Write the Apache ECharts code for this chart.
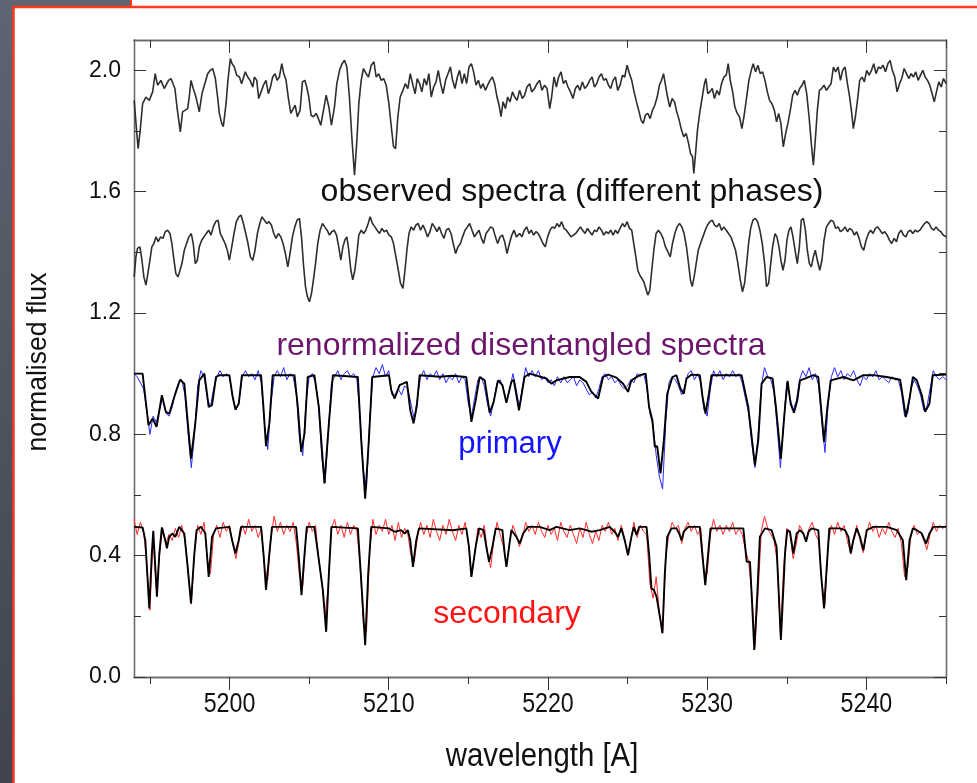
<!DOCTYPE html>
<html>
<head>
<meta charset="utf-8">
<title>Disentangled spectra</title>
<script src="https://cdn.jsdelivr.net/npm/echarts@6/dist/echarts.min.js"></script>
<style>
  html, body { margin: 0; padding: 0; background: #545a67; }
  #chart { width: 977px; height: 783px; }
</style>
</head>
<body>
<div id="chart"></div>
<script>
// Axis ticks
const waveTicksMajor = [5200, 5210, 5220, 5230, 5240];
const waveTicksMinor = [5195, 5205, 5215, 5225, 5235, 5245];
const fluxTicksMajor = [0.0, 0.4, 0.8, 1.2, 1.6, 2.0];
const fluxTicksMinor = [0.2, 0.6, 1.0, 1.4, 1.8];

// Observed composite spectrum, first phase (wavelength, flux)
const observedPhaseA = [
[5194.01,1.901],[5194.16,1.803],[5194.26,1.742],[5194.39,1.803],[5194.54,1.890],[5194.75,1.912],[5194.96,1.901],[5195.17,1.929],[5195.33,1.989],[5195.48,1.951],
[5195.59,1.945],[5195.69,1.967],[5195.80,1.962],[5195.90,1.940],[5196.00,1.945],[5196.17,1.967],[5196.32,1.973],[5196.42,1.978],[5196.57,1.940],[5196.70,1.879],
[5196.91,1.797],[5197.05,1.863],[5197.20,1.868],[5197.37,1.874],[5197.47,1.912],[5197.58,1.967],[5197.72,1.940],[5197.89,1.912],[5198.10,1.863],[5198.27,1.923],
[5198.42,1.951],[5198.63,1.989],[5198.79,2.000],[5198.94,2.006],[5199.11,1.973],[5199.25,1.912],[5199.36,1.858],[5199.51,1.825],[5199.61,1.814],[5199.78,1.890],
[5199.90,1.967],[5200.05,2.039],[5200.16,2.022],[5200.30,2.011],[5200.45,1.984],[5200.62,1.978],[5200.76,1.956],[5200.87,1.951],[5200.99,1.995],[5201.14,1.978],
[5201.29,1.967],[5201.46,1.945],[5201.56,1.978],[5201.71,1.967],[5201.83,1.907],[5201.98,1.929],[5202.13,1.951],[5202.29,1.967],[5202.44,1.923],[5202.57,1.945],
[5202.71,1.978],[5202.86,1.989],[5202.99,1.967],[5203.13,1.978],[5203.28,2.022],[5203.41,1.989],[5203.55,1.967],[5203.70,1.907],[5203.85,1.858],[5203.97,1.863],
[5204.12,1.885],[5204.26,1.847],[5204.43,1.868],[5204.58,1.962],[5204.73,1.967],[5204.85,1.945],[5204.98,1.912],[5205.12,1.852],[5205.27,1.847],[5205.44,1.858],
[5205.58,1.841],[5205.73,1.819],[5205.90,1.868],[5206.07,1.918],[5206.24,1.879],[5206.40,1.819],[5206.59,1.879],[5206.74,1.956],[5206.91,2.000],[5207.07,2.022],
[5207.22,2.033],[5207.37,2.011],[5207.53,1.912],[5207.68,1.781],[5207.85,1.654],[5208.00,1.770],[5208.12,1.890],[5208.27,1.967],[5208.41,2.006],[5208.58,1.989],
[5208.73,1.978],[5208.90,2.017],[5209.07,2.028],[5209.21,1.978],[5209.37,1.989],[5209.53,1.967],[5209.68,1.973],[5209.84,1.951],[5210.01,1.890],[5210.16,1.814],
[5210.30,1.748],[5210.43,1.742],[5210.57,1.847],[5210.72,1.912],[5210.89,1.934],[5211.04,1.956],[5211.20,1.940],[5211.35,1.989],[5211.52,1.951],[5211.66,1.923],
[5211.79,1.973],[5211.94,1.956],[5212.08,1.929],[5212.23,1.973],[5212.38,1.951],[5212.52,1.989],[5212.67,1.912],[5212.82,1.945],[5212.97,1.962],[5213.11,2.000],
[5213.26,1.956],[5213.41,1.923],[5213.57,1.967],[5213.72,1.989],[5213.87,2.011],[5214.01,1.967],[5214.16,1.940],[5214.31,1.978],[5214.45,2.000],[5214.60,1.956],
[5214.75,1.989],[5214.89,1.956],[5215.04,2.011],[5215.19,2.022],[5215.33,1.995],[5215.48,1.951],[5215.63,1.967],[5215.78,1.940],[5215.92,1.956],[5216.07,1.934],
[5216.21,1.951],[5216.36,1.967],[5216.51,1.978],[5216.65,1.956],[5216.80,1.912],[5216.93,1.885],[5217.05,1.847],[5217.18,1.896],[5217.33,1.874],[5217.47,1.912],
[5217.62,1.896],[5217.77,1.929],[5217.91,1.912],[5218.06,1.901],[5218.22,1.934],[5218.39,1.907],[5218.53,1.918],[5218.68,1.945],[5218.85,1.956],[5218.98,1.929],
[5219.16,1.940],[5219.31,1.956],[5219.48,1.967],[5219.62,1.934],[5219.79,1.951],[5219.94,1.940],[5220.11,1.874],[5220.23,1.912],[5220.38,1.978],[5220.53,1.945],
[5220.67,1.978],[5220.82,1.995],[5220.97,1.956],[5221.11,1.967],[5221.26,1.945],[5221.41,1.929],[5221.57,1.907],[5221.72,1.940],[5221.87,1.951],[5222.01,1.934],
[5222.16,1.962],[5222.31,1.940],[5222.48,1.951],[5222.62,1.967],[5222.77,1.978],[5222.92,1.945],[5223.06,1.956],[5223.21,1.978],[5223.36,1.989],[5223.50,1.967],
[5223.65,1.973],[5223.80,1.951],[5223.94,1.940],[5224.09,1.967],[5224.24,1.978],[5224.38,1.934],[5224.53,1.951],[5224.68,1.984],[5224.82,1.978],[5224.97,2.017],
[5225.12,1.989],[5225.26,1.967],[5225.41,1.929],[5225.56,1.896],[5225.70,1.868],[5225.85,1.836],[5225.98,1.825],[5226.12,1.852],[5226.27,1.858],[5226.42,1.841],
[5226.56,1.868],[5226.71,1.885],[5226.86,1.912],[5227.00,1.951],[5227.13,1.967],[5227.26,1.989],[5227.38,1.951],[5227.51,1.912],[5227.65,1.879],[5227.80,1.907],
[5227.95,1.896],[5228.09,1.863],[5228.24,1.836],[5228.39,1.803],[5228.53,1.781],[5228.68,1.792],[5228.83,1.759],[5228.95,1.726],[5229.08,1.715],[5229.16,1.660],
[5229.27,1.726],[5229.39,1.803],[5229.54,1.863],[5229.69,1.912],[5229.83,1.956],[5229.92,1.973],[5230.04,1.923],[5230.17,1.929],[5230.32,1.940],[5230.46,1.907],
[5230.61,1.934],[5230.76,1.918],[5230.90,1.956],[5231.05,1.978],[5231.20,1.984],[5231.32,2.022],[5231.45,1.967],[5231.60,1.929],[5231.74,1.879],[5231.89,1.858],
[5232.03,1.847],[5232.18,1.808],[5232.31,1.847],[5232.48,1.912],[5232.62,1.967],[5232.77,2.000],[5232.89,2.022],[5233.04,1.995],[5233.19,2.017],[5233.33,1.989],
[5233.48,1.995],[5233.63,1.967],[5233.78,1.929],[5233.92,1.901],[5234.07,1.890],[5234.22,1.868],[5234.36,1.830],[5234.49,1.858],[5234.63,1.825],[5234.78,1.748],
[5234.93,1.792],[5235.07,1.825],[5235.22,1.868],[5235.37,1.918],[5235.52,1.934],[5235.66,1.918],[5235.81,1.940],[5235.96,1.951],[5236.10,1.967],[5236.25,1.923],
[5236.40,1.847],[5236.54,1.759],[5236.67,1.687],[5236.79,1.770],[5236.92,1.868],[5237.05,1.934],[5237.19,1.940],[5237.34,1.951],[5237.49,1.934],[5237.63,1.945],
[5237.78,1.956],[5237.93,2.011],[5238.07,1.995],[5238.22,2.011],[5238.37,1.967],[5238.51,2.000],[5238.66,2.011],[5238.81,1.956],[5238.95,1.912],[5239.08,1.858],
[5239.18,1.808],[5239.31,1.847],[5239.44,1.901],[5239.58,1.967],[5239.73,1.978],[5239.87,1.962],[5240.02,2.000],[5240.17,1.984],[5240.32,2.000],[5240.46,2.022],
[5240.61,1.989],[5240.76,2.011],[5240.90,2.006],[5241.05,2.017],[5241.20,1.995],[5241.35,2.022],[5241.49,2.033],[5241.63,2.000],[5241.78,1.978],[5241.93,1.929],
[5242.08,1.956],[5242.22,1.973],[5242.37,2.006],[5242.52,1.989],[5242.66,1.973],[5242.81,1.989],[5242.96,1.978],[5243.10,1.995],[5243.25,1.967],[5243.40,1.984],
[5243.54,2.000],[5243.69,1.978],[5243.84,1.967],[5243.98,1.951],[5244.13,1.923],[5244.26,1.896],[5244.40,1.929],[5244.55,1.962],[5244.70,1.945],[5244.84,1.973],
[5245.01,1.956]
];

// Observed composite spectrum, second phase (wavelength, flux)
const observedPhaseB = [
[5194.01,1.319],[5194.12,1.385],[5194.22,1.413],[5194.37,1.418],[5194.50,1.374],[5194.62,1.319],[5194.75,1.292],[5194.87,1.330],[5195.00,1.374],[5195.12,1.418],
[5195.25,1.429],[5195.38,1.451],[5195.52,1.435],[5195.67,1.451],[5195.82,1.446],[5195.96,1.468],[5196.11,1.473],[5196.26,1.462],[5196.38,1.429],[5196.51,1.374],
[5196.63,1.330],[5196.76,1.319],[5196.89,1.341],[5197.01,1.363],[5197.16,1.407],[5197.30,1.429],[5197.45,1.451],[5197.60,1.462],[5197.72,1.429],[5197.85,1.363],
[5197.98,1.374],[5198.10,1.418],[5198.25,1.440],[5198.39,1.451],[5198.54,1.462],[5198.69,1.473],[5198.84,1.457],[5198.98,1.484],[5199.13,1.501],[5199.28,1.506],
[5199.42,1.462],[5199.57,1.446],[5199.72,1.429],[5199.86,1.407],[5199.99,1.374],[5200.14,1.418],[5200.28,1.462],[5200.43,1.501],[5200.58,1.517],[5200.72,1.523],
[5200.87,1.495],[5201.02,1.462],[5201.16,1.429],[5201.31,1.385],[5201.46,1.374],[5201.60,1.407],[5201.75,1.462],[5201.90,1.495],[5202.04,1.517],[5202.19,1.506],
[5202.34,1.495],[5202.48,1.501],[5202.63,1.490],[5202.78,1.462],[5202.92,1.446],[5203.07,1.462],[5203.22,1.451],[5203.36,1.429],[5203.51,1.396],[5203.66,1.352],
[5203.80,1.396],[5203.95,1.451],[5204.10,1.484],[5204.24,1.506],[5204.39,1.512],[5204.52,1.451],[5204.64,1.363],[5204.77,1.287],[5204.89,1.254],[5205.02,1.237],
[5205.15,1.265],[5205.27,1.309],[5205.40,1.363],[5205.54,1.429],[5205.69,1.473],[5205.84,1.495],[5205.98,1.484],[5206.13,1.473],[5206.28,1.457],[5206.42,1.468],
[5206.57,1.473],[5206.72,1.457],[5206.86,1.418],[5206.99,1.374],[5207.12,1.418],[5207.24,1.440],[5207.37,1.451],[5207.49,1.407],[5207.62,1.341],[5207.74,1.309],
[5207.87,1.341],[5208.00,1.396],[5208.12,1.457],[5208.27,1.473],[5208.42,1.462],[5208.56,1.473],[5208.71,1.495],[5208.83,1.517],[5208.98,1.495],[5209.13,1.484],
[5209.27,1.473],[5209.42,1.462],[5209.57,1.479],[5209.71,1.468],[5209.86,1.473],[5210.01,1.457],[5210.16,1.451],[5210.30,1.429],[5210.45,1.385],[5210.60,1.341],
[5210.74,1.298],[5210.89,1.281],[5211.02,1.341],[5211.14,1.407],[5211.27,1.462],[5211.41,1.484],[5211.56,1.473],[5211.71,1.490],[5211.85,1.495],[5212.00,1.473],
[5212.15,1.490],[5212.29,1.473],[5212.44,1.451],[5212.59,1.468],[5212.73,1.495],[5212.88,1.484],[5213.03,1.468],[5213.17,1.484],[5213.32,1.462],[5213.47,1.446],
[5213.61,1.473],[5213.76,1.479],[5213.91,1.462],[5214.05,1.429],[5214.20,1.396],[5214.35,1.418],[5214.50,1.429],[5214.64,1.451],[5214.79,1.473],[5214.94,1.484],
[5215.08,1.495],[5215.23,1.473],[5215.38,1.451],[5215.52,1.462],[5215.67,1.473],[5215.82,1.446],[5215.96,1.429],[5216.11,1.462],[5216.26,1.473],[5216.40,1.484],
[5216.55,1.479],[5216.70,1.451],[5216.84,1.429],[5216.99,1.451],[5217.14,1.457],[5217.28,1.435],[5217.43,1.396],[5217.58,1.429],[5217.73,1.457],[5217.87,1.473],
[5218.02,1.451],[5218.22,1.462],[5218.37,1.451],[5218.51,1.473],[5218.66,1.484],[5218.81,1.462],[5218.95,1.473],[5219.10,1.457],[5219.25,1.468],[5219.39,1.462],
[5219.54,1.446],[5219.69,1.429],[5219.83,1.418],[5219.98,1.451],[5220.13,1.473],[5220.27,1.484],[5220.42,1.479],[5220.57,1.495],[5220.71,1.484],[5220.86,1.501],
[5221.01,1.479],[5221.15,1.473],[5221.30,1.462],[5221.45,1.451],[5221.60,1.457],[5221.74,1.462],[5221.89,1.473],[5222.04,1.484],[5222.18,1.473],[5222.33,1.462],
[5222.48,1.479],[5222.62,1.468],[5222.77,1.457],[5222.92,1.473],[5223.06,1.468],[5223.21,1.484],[5223.36,1.473],[5223.50,1.457],[5223.65,1.468],[5223.80,1.462],
[5223.94,1.473],[5224.09,1.457],[5224.24,1.473],[5224.38,1.462],[5224.53,1.479],[5224.68,1.495],[5224.82,1.484],[5224.97,1.501],[5225.12,1.479],[5225.26,1.473],
[5225.39,1.429],[5225.52,1.385],[5225.64,1.341],[5225.77,1.325],[5225.89,1.319],[5226.02,1.303],[5226.14,1.298],[5226.27,1.259],[5226.40,1.276],[5226.52,1.341],
[5226.65,1.407],[5226.79,1.462],[5226.94,1.473],[5227.09,1.462],[5227.23,1.446],[5227.38,1.418],[5227.53,1.402],[5227.68,1.385],[5227.82,1.429],[5227.97,1.462],
[5228.11,1.484],[5228.26,1.495],[5228.41,1.484],[5228.55,1.462],[5228.70,1.418],[5228.83,1.363],[5228.95,1.309],[5229.06,1.287],[5229.18,1.319],[5229.31,1.363],
[5229.44,1.407],[5229.58,1.429],[5229.73,1.451],[5229.88,1.473],[5230.02,1.490],[5230.17,1.501],[5230.32,1.506],[5230.46,1.490],[5230.61,1.484],[5230.76,1.495],
[5230.90,1.473],[5231.05,1.484],[5231.20,1.473],[5231.34,1.462],[5231.49,1.451],[5231.64,1.429],[5231.78,1.407],[5231.93,1.363],[5232.08,1.309],[5232.22,1.270],
[5232.35,1.298],[5232.48,1.363],[5232.60,1.429],[5232.73,1.479],[5232.87,1.506],[5233.02,1.512],[5233.17,1.501],[5233.31,1.473],[5233.46,1.429],[5233.61,1.363],
[5233.73,1.287],[5233.86,1.298],[5233.99,1.363],[5234.11,1.418],[5234.26,1.462],[5234.38,1.451],[5234.51,1.418],[5234.63,1.374],[5234.76,1.341],[5234.89,1.374],
[5235.01,1.440],[5235.14,1.473],[5235.26,1.484],[5235.39,1.451],[5235.52,1.407],[5235.66,1.363],[5235.79,1.418],[5235.91,1.506],[5236.04,1.512],[5236.17,1.473],
[5236.29,1.407],[5236.42,1.363],[5236.54,1.352],[5236.67,1.385],[5236.79,1.407],[5236.92,1.374],[5237.07,1.341],[5237.21,1.374],[5237.34,1.440],[5237.49,1.484],
[5237.63,1.495],[5237.78,1.506],[5237.93,1.501],[5238.07,1.479],[5238.22,1.484],[5238.37,1.468],[5238.51,1.473],[5238.66,1.484],[5238.81,1.468],[5238.95,1.479],
[5239.10,1.473],[5239.25,1.457],[5239.39,1.468],[5239.54,1.446],[5239.69,1.418],[5239.83,1.407],[5239.98,1.440],[5240.13,1.462],[5240.27,1.473],[5240.42,1.462],
[5240.56,1.479],[5240.71,1.484],[5240.86,1.473],[5241.00,1.462],[5241.15,1.468],[5241.30,1.457],[5241.45,1.440],[5241.59,1.429],[5241.74,1.446],[5241.89,1.435],
[5242.03,1.462],[5242.18,1.473],[5242.33,1.457],[5242.48,1.451],[5242.62,1.468],[5242.77,1.473],[5242.91,1.462],[5243.06,1.473],[5243.21,1.468],[5243.36,1.473],
[5243.50,1.484],[5243.65,1.495],[5243.80,1.501],[5243.94,1.495],[5244.09,1.479],[5244.23,1.473],[5244.38,1.484],[5244.53,1.473],[5244.68,1.468],[5244.82,1.457],
[5245.01,1.451]
];

// Disentangled primary: fitted profile (wavelength, flux)
const primaryModel = [
[5194.01,1.000],[5194.54,1.000],[5194.91,0.830],[5195.17,0.852],[5195.42,0.825],[5195.75,0.929],[5196.00,0.874],[5196.21,0.868],[5196.53,0.923],[5196.89,0.980],
[5197.16,0.967],[5197.58,0.720],[5197.85,0.836],[5198.10,0.978],[5198.42,1.000],[5198.56,0.945],[5198.69,0.890],[5198.90,0.896],[5199.15,0.989],[5199.36,0.995],
[5199.99,0.995],[5200.20,0.923],[5200.37,0.882],[5200.58,0.901],[5200.78,0.995],[5201.98,0.995],[5202.13,0.890],[5202.29,0.761],[5202.50,0.836],[5202.71,0.995],
[5204.08,0.995],[5204.29,0.890],[5204.50,0.742],[5204.71,0.803],[5204.91,0.989],[5205.33,0.995],[5205.61,0.890],[5205.96,0.638],[5206.24,0.836],[5206.49,0.995],
[5208.06,0.989],[5208.27,0.781],[5208.52,0.588],[5208.75,0.781],[5208.96,0.989],[5210.01,0.995],[5210.16,0.945],[5210.37,0.918],[5210.68,0.962],[5210.89,0.967],
[5211.14,0.973],[5211.35,0.879],[5211.56,0.836],[5211.77,0.896],[5211.94,0.995],[5213.20,0.990],[5214.00,0.993],[5214.87,0.989],[5215.19,0.841],[5215.46,0.912],
[5215.71,0.989],[5216.03,0.978],[5216.34,0.871],[5216.59,0.907],[5216.86,0.978],[5217.14,0.962],[5217.39,0.904],[5217.70,0.973],[5217.85,0.980],[5218.18,0.879],
[5218.53,0.989],[5218.85,1.000],[5219.90,0.984],[5220.21,0.967],[5220.53,0.978],[5221.36,0.989],[5221.99,0.989],[5222.41,0.973],[5222.73,0.940],[5223.15,0.918],
[5223.46,0.989],[5223.78,0.997],[5224.30,0.987],[5224.72,0.967],[5225.03,0.940],[5225.24,0.978],[5225.77,0.995],[5226.14,1.000],[5226.35,0.890],[5226.56,0.846],
[5226.71,0.759],[5226.86,0.761],[5227.07,0.671],[5227.28,0.781],[5227.49,0.934],[5227.82,0.989],[5228.07,0.995],[5228.32,0.951],[5228.53,0.934],[5228.70,0.984],
[5229.02,0.997],[5229.54,0.995],[5229.71,0.923],[5229.90,0.868],[5230.11,0.934],[5230.27,0.995],[5232.16,0.995],[5232.58,0.890],[5233.00,0.698],[5233.21,0.781],
[5233.42,0.967],[5233.73,0.989],[5234.11,0.984],[5234.32,0.890],[5234.63,0.720],[5234.89,0.890],[5235.05,0.976],[5235.24,0.901],[5235.45,0.871],[5235.66,0.912],
[5235.83,0.978],[5236.14,0.984],[5236.67,0.995],[5236.98,0.989],[5237.15,0.890],[5237.34,0.775],[5237.55,0.890],[5237.76,0.978],[5238.56,0.989],[5239.18,0.978],
[5239.81,0.995],[5240.44,0.995],[5241.28,0.989],[5242.12,0.980],[5242.29,0.923],[5242.48,0.857],[5242.71,0.918],[5242.92,0.989],[5243.17,0.978],[5243.48,0.929],
[5243.69,0.874],[5243.96,0.901],[5244.17,0.995],[5245.01,0.997]
];

// Disentangled secondary: fitted profile (wavelength, flux)
const secondaryModel = [
[5194.01,0.495],[5194.54,0.493],[5194.71,0.451],[5194.96,0.226],[5195.12,0.407],[5195.21,0.482],[5195.29,0.407],[5195.44,0.265],[5195.59,0.407],[5195.75,0.493],
[5195.96,0.451],[5196.07,0.424],[5196.21,0.462],[5196.42,0.473],[5196.59,0.462],[5196.84,0.495],[5197.16,0.473],[5197.37,0.363],[5197.58,0.243],[5197.79,0.407],
[5197.93,0.484],[5198.21,0.495],[5198.48,0.473],[5198.69,0.330],[5198.90,0.462],[5199.15,0.490],[5199.99,0.495],[5200.16,0.451],[5200.37,0.407],[5200.58,0.451],
[5200.72,0.495],[5201.98,0.495],[5202.15,0.396],[5202.29,0.287],[5202.50,0.407],[5202.67,0.495],[5204.18,0.495],[5204.35,0.396],[5204.52,0.270],[5204.68,0.385],
[5204.85,0.495],[5205.33,0.495],[5205.61,0.385],[5205.86,0.287],[5206.07,0.149],[5206.24,0.341],[5206.40,0.495],[5208.06,0.490],[5208.27,0.319],[5208.52,0.105],
[5208.71,0.341],[5208.90,0.495],[5210.01,0.490],[5210.37,0.479],[5210.78,0.484],[5211.00,0.473],[5211.20,0.484],[5211.35,0.451],[5211.52,0.363],[5211.73,0.451],
[5211.90,0.490],[5214.03,0.484],[5214.87,0.490],[5215.04,0.429],[5215.19,0.330],[5215.29,0.330],[5215.46,0.429],[5215.67,0.490],[5215.96,0.484],[5216.13,0.429],
[5216.30,0.380],[5216.51,0.429],[5216.72,0.490],[5217.14,0.484],[5217.28,0.407],[5217.39,0.363],[5217.56,0.429],[5217.70,0.484],[5218.02,0.462],[5218.23,0.440],
[5218.44,0.473],[5218.75,0.495],[5219.48,0.495],[5220.11,0.484],[5220.53,0.495],[5221.36,0.484],[5221.99,0.490],[5222.41,0.484],[5222.73,0.479],[5223.25,0.484],
[5223.88,0.495],[5224.19,0.479],[5224.40,0.462],[5224.61,0.490],[5224.82,0.451],[5225.03,0.402],[5225.24,0.462],[5225.39,0.495],[5225.56,0.468],[5225.73,0.495],
[5226.19,0.495],[5226.35,0.407],[5226.50,0.292],[5226.65,0.287],[5226.82,0.265],[5227.03,0.199],[5227.19,0.144],[5227.34,0.341],[5227.49,0.462],[5227.76,0.490],
[5228.07,0.490],[5228.24,0.473],[5228.39,0.451],[5228.53,0.479],[5228.81,0.495],[5229.54,0.495],[5229.71,0.396],[5229.88,0.303],[5230.06,0.407],[5230.21,0.490],
[5232.27,0.490],[5232.48,0.380],[5232.69,0.380],[5232.81,0.254],[5232.96,0.089],[5233.15,0.276],[5233.31,0.462],[5233.63,0.490],[5234.05,0.484],[5234.36,0.429],
[5234.63,0.122],[5234.89,0.407],[5235.03,0.484],[5235.20,0.479],[5235.41,0.407],[5235.62,0.473],[5235.83,0.484],[5236.04,0.473],[5236.21,0.446],[5236.37,0.479],
[5236.56,0.490],[5236.98,0.484],[5237.15,0.341],[5237.34,0.226],[5237.51,0.363],[5237.67,0.490],[5238.35,0.490],[5238.66,0.484],[5238.87,0.462],[5239.02,0.407],
[5239.18,0.451],[5239.39,0.490],[5239.60,0.462],[5239.81,0.418],[5240.02,0.484],[5240.44,0.495],[5241.28,0.495],[5241.91,0.484],[5242.29,0.451],[5242.50,0.319],
[5242.71,0.451],[5242.92,0.490],[5243.17,0.484],[5243.48,0.473],[5243.75,0.440],[5243.96,0.473],[5244.21,0.495],[5245.01,0.495]
];

// Disentangled spectra sampled every 0.2 A from 5194.0 A
const sampleStart = 5194.0;
const sampleStep = 0.2;
const primaryFlux = [
1.00,0.99,0.97,0.95,0.88,0.80,0.86,0.84,0.88,0.92, 0.87,0.86,0.89,0.94,0.97,0.98,0.93,0.80,0.69,0.80,
0.96,1.01,0.99,0.92,0.89,0.95,0.99,1.01,0.99,1.00, 0.99,0.92,0.88,0.91,0.99,1.01,0.99,1.00,0.98,1.01,
0.97,0.83,0.75,0.90,0.99,1.01,0.99,1.02,0.98,1.00, 0.99,0.93,0.78,0.73,0.90,0.99,1.00,0.97,0.89,0.72,
0.64,0.80,0.97,0.99,1.01,0.98,1.00,1.01,0.99,1.00, 0.98,0.86,0.68,0.62,0.84,0.99,1.02,1.00,1.03,0.99,
1.01,0.93,0.93,0.95,0.93,0.96,0.95,0.90,0.85,0.92, 0.99,1.01,0.98,1.00,0.99,1.01,0.98,1.00,0.97,0.99,
0.98,1.00,0.97,0.99,0.98,0.90,0.86,0.92,0.98,0.99, 0.96,0.90,0.86,0.91,0.97,0.98,0.95,0.91,0.95,1.00,
0.95,0.89,0.96,1.02,0.99,1.01,0.99,1.01,0.98,0.99, 0.97,0.98,0.96,0.99,0.97,0.99,0.97,0.98,0.99,0.96,
0.98,0.97,0.95,0.93,0.94,0.92,0.95,0.99,1.00,0.98, 0.99,0.97,0.98,0.96,0.95,0.96,0.98,0.97,1.00,0.99,
1.00,0.96,0.87,0.83,0.73,0.66,0.62,0.84,0.97,0.99, 0.98,0.96,0.93,0.96,1.00,1.01,0.98,1.00,0.97,0.88,
0.86,0.95,1.01,0.99,1.01,0.98,1.00,0.99,1.01,0.99, 1.00,0.97,0.92,0.87,0.77,0.69,0.80,0.96,1.02,0.99,
0.98,0.94,0.82,0.69,0.84,0.97,0.92,0.88,0.91,0.98, 1.01,0.99,1.02,0.98,1.00,0.96,0.84,0.74,0.90,0.99,
1.02,0.99,1.01,0.98,1.00,0.99,1.01,0.98,0.96,0.99, 0.98,1.00,0.99,1.01,0.98,0.99,0.98,0.97,0.99,0.98,
0.98,0.94,0.86,0.87,0.95,0.98,0.96,0.93,0.88,0.89, 0.95,1.01,0.99,0.98,0.99,0.98
];
const secondaryFlux = [
0.52,0.47,0.51,0.48,0.38,0.22,0.46,0.29,0.40,0.49, 0.44,0.47,0.45,0.49,0.46,0.50,0.45,0.35,0.24,0.41,
0.50,0.47,0.51,0.39,0.34,0.47,0.50,0.46,0.51,0.48, 0.50,0.44,0.39,0.45,0.50,0.47,0.52,0.48,0.50,0.46,
0.49,0.36,0.32,0.46,0.53,0.48,0.51,0.47,0.50,0.48, 0.51,0.44,0.33,0.30,0.46,0.51,0.48,0.50,0.39,0.31,
0.20,0.30,0.49,0.52,0.47,0.50,0.46,0.51,0.47,0.50, 0.48,0.37,0.18,0.15,0.41,0.52,0.47,0.50,0.48,0.52,
0.47,0.50,0.45,0.51,0.46,0.49,0.47,0.40,0.38,0.46, 0.51,0.47,0.50,0.46,0.52,0.48,0.45,0.50,0.47,0.52,
0.48,0.45,0.50,0.47,0.51,0.44,0.33,0.41,0.49,0.46, 0.50,0.41,0.36,0.45,0.51,0.47,0.43,0.37,0.45,0.50,
0.47,0.43,0.46,0.51,0.48,0.50,0.47,0.51,0.48,0.46, 0.50,0.47,0.49,0.45,0.51,0.48,0.46,0.50,0.47,0.44,
0.49,0.46,0.51,0.47,0.44,0.48,0.45,0.50,0.48,0.51, 0.47,0.49,0.45,0.50,0.46,0.40,0.45,0.51,0.46,0.50,
0.48,0.47,0.31,0.26,0.33,0.21,0.15,0.40,0.47,0.51, 0.49,0.50,0.44,0.49,0.51,0.48,0.50,0.47,0.49,0.35,
0.34,0.47,0.52,0.48,0.50,0.47,0.50,0.48,0.51,0.47, 0.49,0.47,0.42,0.38,0.28,0.10,0.28,0.48,0.53,0.49,
0.47,0.45,0.38,0.14,0.36,0.49,0.47,0.39,0.44,0.50, 0.48,0.45,0.49,0.51,0.47,0.45,0.31,0.24,0.44,0.50,
0.47,0.51,0.48,0.50,0.45,0.41,0.46,0.50,0.45,0.41, 0.47,0.51,0.48,0.50,0.46,0.49,0.47,0.51,0.48,0.46,
0.49,0.44,0.33,0.36,0.47,0.50,0.47,0.48,0.45,0.42, 0.47,0.51,0.48,0.50,0.49,0.50
];

const toPairs = (values) => values.map((f, i) => [+(sampleStart + i * sampleStep).toFixed(2), f]);

const chart = echarts.init(document.getElementById('chart'), null, { renderer: 'canvas' });

const axisGray = '#6a6a6a';
const tickDark = '#333333';
const fontMain = 'Liberation Sans, Arial, sans-serif';

function waveAxis(position, ticks, len, inside) {
  return {
    type: 'value', position, min: 5194, max: 5245,
    axisLine: { show: true, onZero: false, lineStyle: { color: axisGray, width: 1.3 } },
    axisTick: { show: true, inside, length: len, customValues: ticks, lineStyle: { color: tickDark, width: 1 } },
    axisLabel: { show: false },
    splitLine: { show: false }
  };
}
function fluxAxis(position, ticks, len, labels) {
  return {
    type: 'value', position, min: 0, max: 2.1,
    axisLine: { show: true, onZero: false, lineStyle: { color: axisGray, width: 1.3 } },
    axisTick: { show: true, inside: true, length: len, customValues: ticks, lineStyle: { color: tickDark, width: 1 } },
    axisLabel: labels ? {
      show: true, customValues: ticks, margin: 13, color: '#111',
      fontFamily: fontMain, fontSize: 23, formatter: (v) => v.toFixed(1)
    } : { show: false },
    splitLine: { show: false }
  };
}

const line = (data, color, width, z) => ({
  type: 'line', data, showSymbol: false, symbol: 'none', smooth: false,
  lineStyle: { color, width }, z, silent: true, animation: false
});

const textEl = (id, x, y, text, size, color, extra) => Object.assign({
  type: 'text', id, z: 20, silent: true, x, y,
  style: { text, font: size + 'px ' + fontMain, fill: color, textAlign: 'center', textVerticalAlign: 'middle' }
}, extra || {});

const frame = [
  { type: 'rect', id: 'slide', z: -20, silent: true, shape: { x: 0, y: 0, width: 977, height: 783 },
    style: { fill: new echarts.graphic.LinearGradient(0, 0, 0, 1, [
      { offset: 0, color: '#5e6471' }, { offset: 1, color: '#3f4450' }]) } },
  { type: 'rect', id: 'topBox', z: -19, silent: true, shape: { x: 131, y: -4, width: 850, height: 11 },
    style: { fill: '#ffffff', stroke: '#ff3a1c', lineWidth: 2 } },
  { type: 'rect', id: 'panel', z: -18, silent: true, shape: { x: 13.5, y: 7, width: 970, height: 790 },
    style: { fill: '#ffffff', stroke: '#ff3a1c', lineWidth: 2.5 } },
  textEl('tObs', 572, 192, 'observed spectra (different phases)', 32, '#111'),
  textEl('tDis', 521, 346, 'renormalized disentangled spectra', 32, '#6c176c'),
  textEl('tPri', 510, 444, 'primary', 31, '#1414ff'),
  textEl('tSec', 507, 614, 'secondary', 32, '#ff1212'),
  textEl('tY', 38, 362, 'normalised flux', 28, '#111', { rotation: Math.PI / 2, scaleX: 0.95 }),
  textEl('tX', 542, 757, 'wavelength [A]', 33, '#111', { scaleX: 0.89 })
];

chart.setOption({
  backgroundColor: 'transparent',
  animation: false,
  grid: { left: 134, top: 40, right: 31, bottom: 106, containLabel: false },
  xAxis: [
    waveAxis('bottom', waveTicksMajor, 13, false),
    waveAxis('bottom', waveTicksMinor, 7, false),
    waveAxis('top', waveTicksMajor, 13, true),
    waveAxis('top', waveTicksMinor, 8, true)
  ],
  yAxis: [
    fluxAxis('left', fluxTicksMajor, 12, true),
    fluxAxis('left', fluxTicksMinor, 7, false),
    fluxAxis('right', fluxTicksMajor, 12, false),
    fluxAxis('right', fluxTicksMinor, 7, false)
  ],
  graphic: frame,
  series: [
    line(observedPhaseA, '#2e2e2e', 1.6, 3),
    line(observedPhaseB, '#2e2e2e', 1.6, 3),
    line(toPairs(primaryFlux), '#2a2aff', 1, 3),
    line(toPairs(secondaryFlux), '#ff2a2a', 1, 3),
    line(primaryModel, '#000000', 1.9, 4),
    line(secondaryModel, '#000000', 1.9, 4)
  ]
});

// Wavelength tick labels, placed on the bottom axis scale with a condensed face
const waveLabels = waveTicksMajor.map((v, i) => textEl('xl' + i,
  chart.convertToPixel({ xAxisIndex: 0 }, v), 705, String(v), 27, '#111', { scaleX: 0.86 }));
chart.setOption({ graphic: frame.concat(waveLabels) });
</script>
</body>
</html>
